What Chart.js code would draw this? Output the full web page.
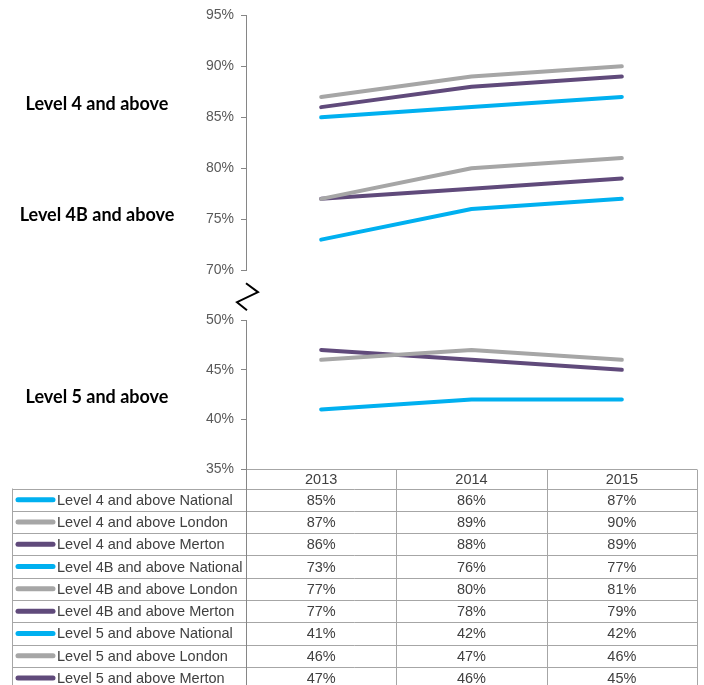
<!DOCTYPE html>
<html>
<head>
<meta charset="utf-8">
<script src="https://cdn.jsdelivr.net/npm/chart.js@4.4.0/dist/chart.umd.min.js"></script>
<style>
  body { margin: 0; background: #fff; }
  #wrap { width: 704px; height: 685px; }
</style>
</head>
<body>
<div id="wrap"><canvas id="myChart"></canvas></div>
<script>
const canvas = document.getElementById('myChart');

// Podaci
const years = ['2013', '2014', '2015'];
const seriesNames = [
    'Level 4 and above National',
    'Level 4 and above London',
    'Level 4 and above Merton',
    'Level 4B and above National',
    'Level 4B and above London',
    'Level 4B and above Merton',
    'Level 5 and above National',
    'Level 5 and above London',
    'Level 5 and above Merton'
];
const level4National = [85, 86, 87];
const level4London = [87, 89, 90];
const level4Merton = [86, 88, 89];
const level4bNational = [73, 76, 77];
const level4bLondon = [77, 80, 81];
const level4bMerton = [77, 78, 79];
const level5National = [41, 42, 42];
const level5London = [46, 47, 46];
const level5Merton = [47, 46, 45];
const groupLabels = ['Level 4 and above', 'Level 4B and above', 'Level 5 and above'];
const upperRange = [70, 95];
const lowerRange = [35, 50];
const tickStep = 5;

const seriesData = [
    level4National, level4London, level4Merton,
    level4bNational, level4bLondon, level4bMerton,
    level5National, level5London, level5Merton
];
const colors = ['#00b0f0', '#a6a6a6', '#604a7b'];

const datasets = seriesData.map((data, i) => ({
    label: seriesNames[i],
    data: data,
    yAxisID: i < 6 ? 'yTop' : 'yBot',
    borderColor: colors[i % 3],
    backgroundColor: colors[i % 3],
    borderWidth: 4,
    borderCapStyle: 'round',
    borderJoinStyle: 'round',
    pointRadius: 0,
    tension: 0
}));

const tickFont = { family: '"Liberation Sans", Arial, sans-serif', size: 14 };
const tableFont = '14.5px "Liberation Sans", Arial, sans-serif';

function yAxis(range, weight) {
    return {
        type: 'linear',
        position: 'left',
        stack: 'levels',
        stackWeight: weight,
        min: range[0],
        max: range[1],
        ticks: {
            stepSize: tickStep,
            color: '#595959',
            font: tickFont,
            padding: 7,
            callback: v => v + '%'
        },
        grid: { drawOnChartArea: false, tickLength: 5, color: '#868686' },
        border: { color: '#868686' },
        afterFit: s => { s.width = 40; }
    };
}

// Tabela ispod grafikona, oznake grupa i znak prekida ose
const extras = {
    id: 'extras',
    afterDraw(chart) {
        const ctx = chart.ctx;
        const x = chart.scales.x;
        const top = chart.scales.yTop;
        const area = chart.chartArea;
        const colW = (x.right - x.left) / years.length;
        const tableLeft = 12.5;
        const headTop = Math.round(area.bottom) + 0.5;
        const headH = 19;
        const rowH = 22.3;
        const bodyTop = headTop + headH;
        const bottom = bodyTop + rowH * seriesNames.length;
        ctx.save();

        // linije tabele
        ctx.strokeStyle = '#a6a6a6';
        ctx.lineWidth = 1;
        ctx.beginPath();
        ctx.moveTo(x.left, headTop);
        ctx.lineTo(x.right, headTop);
        for (let r = 0; r <= seriesNames.length; r++) {
            const yy = Math.round(bodyTop + r * rowH) + 0.5;
            ctx.moveTo(tableLeft, yy);
            ctx.lineTo(x.right, yy);
        }
        ctx.moveTo(tableLeft, bodyTop);
        ctx.lineTo(tableLeft, bottom);
        for (let c = 1; c <= years.length; c++) {
            const xx = Math.round(x.left + c * colW) + 0.5;
            ctx.moveTo(xx, headTop);
            ctx.lineTo(xx, bottom);
        }
        ctx.stroke();
        ctx.strokeStyle = '#868686';
        ctx.beginPath();
        ctx.moveTo(Math.round(x.left) + 0.5, area.bottom);
        ctx.lineTo(Math.round(x.left) + 0.5, bottom);
        ctx.stroke();

        ctx.font = tableFont;
        ctx.fillStyle = '#404040';
        ctx.textBaseline = 'middle';
        ctx.textAlign = 'center';
        years.forEach((year, c) => {
            ctx.fillText(year, x.getPixelForValue(c), headTop + headH / 2 + 1);
        });
        seriesNames.forEach((name, r) => {
            const cy = bodyTop + r * rowH + rowH / 2 + 1;
            ctx.strokeStyle = colors[r % 3];
            ctx.lineWidth = 5;
            ctx.lineCap = 'round';
            ctx.beginPath();
            ctx.moveTo(18, cy - 1);
            ctx.lineTo(53, cy - 1);
            ctx.stroke();
            ctx.textAlign = 'left';
            ctx.fillText(name, 57, cy);
            ctx.textAlign = 'center';
            seriesData[r].forEach((v, c) => {
                ctx.fillText(v + '%', x.getPixelForValue(c), cy);
            });
        });

        // oznake grupa
        ctx.font = 'bold 18px Lato, "Open Sans", sans-serif';
        ctx.fillStyle = '#000';
        ctx.textAlign = 'center';
        const labelY = [104, 215, 397];
        groupLabels.forEach((t, i) => ctx.fillText(t, 97, labelY[i]));

        // prekid ose
        const bx = x.left;
        const by = top.bottom;
        ctx.strokeStyle = '#000';
        ctx.lineWidth = 2;
        ctx.lineCap = 'butt';
        ctx.lineJoin = 'miter';
        ctx.beginPath();
        ctx.moveTo(bx, by + 13);
        ctx.lineTo(bx + 12, by + 22);
        ctx.lineTo(bx - 9, by + 32);
        ctx.lineTo(bx + 1, by + 40);
        ctx.stroke();
        ctx.restore();
    }
};

// ose u steku se slazu odozdo nagore, zato ide yBot prva
const myChart = new Chart(canvas, {
    type: 'line',
    data: { labels: years, datasets: datasets },
    options: {
        responsive: true,
        maintainAspectRatio: false,
        animation: false,
        layout: { padding: { left: 206, right: 7, top: 15, bottom: 216 } },
        plugins: { legend: { display: false }, tooltip: { enabled: false } },
        scales: {
            x: { type: 'category', offset: true, display: false },
            yBot: yAxis(lowerRange, 149),
            yGap: { type: 'linear', position: 'left', stack: 'levels', stackWeight: 50, display: false },
            yTop: yAxis(upperRange, 255)
        }
    },
    plugins: [extras]
});
</script>
</body>
</html>
